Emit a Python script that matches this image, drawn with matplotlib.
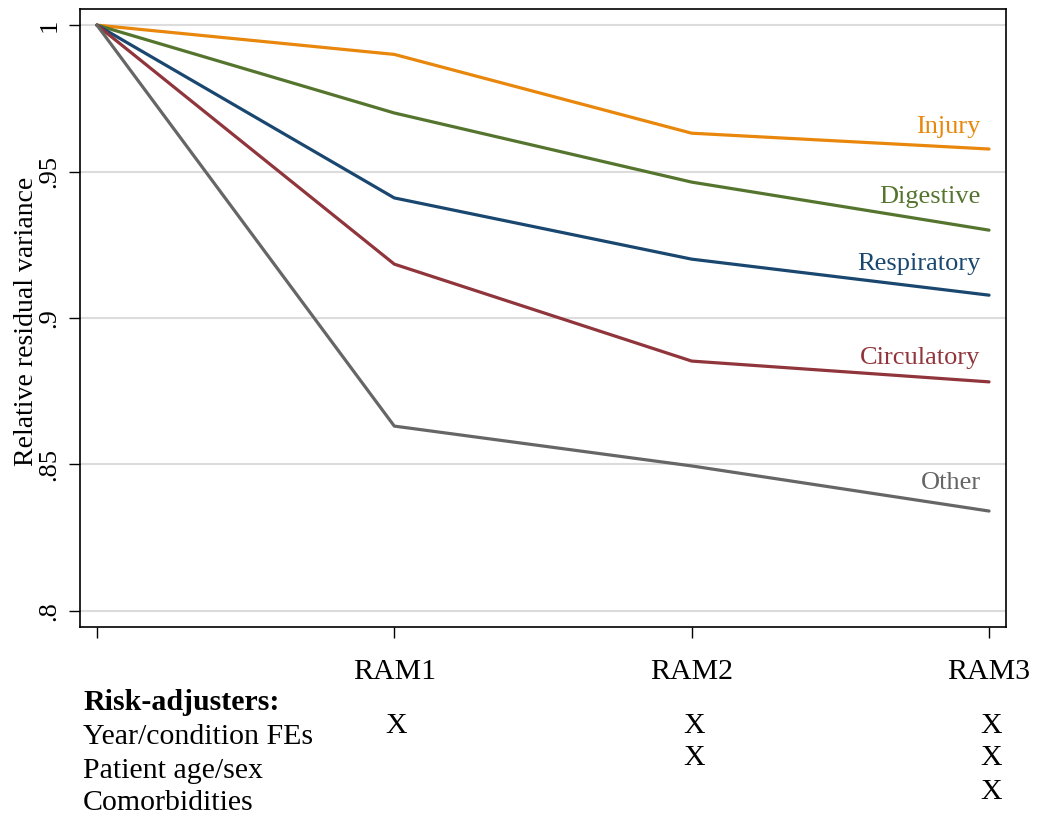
import matplotlib.pyplot as plt
import numpy as np

plt.rcParams['font.family'] = ['Liberation Serif', 'DejaVu Serif']

models = ["", "RAM1", "RAM2", "RAM3"]
injury = [1.0, 0.990, 0.9631, 0.9577]
digestive = [1.0, 0.970, 0.9464, 0.930]
respiratory = [1.0, 0.941, 0.9201, 0.9078]
circulatory = [1.0, 0.9184, 0.8853, 0.8782]
other = [1.0, 0.8631, 0.8495, 0.8341]

names = ["Injury", "Digestive", "Respiratory", "Circulatory", "Other"]
label_y = [0.9652, 0.9413, 0.9184, 0.8863, 0.8437]
colors = ["#E8870C", "#55752F", "#1A476F", "#90353B", "#666666"]

adjusters = ["Year/condition FEs", "Patient age/sex", "Comorbidities"]
# which adjusters are in RAM1, RAM2, RAM3
included = [[1, 0, 0], [1, 1, 0], [1, 1, 1]]

fig = plt.figure(figsize=(10.44, 8.19), dpi=100)
ax = fig.add_axes([0.0766, 0.2344, 0.8870, 0.7546])

x = np.arange(len(models))
series = [injury, digestive, respiratory, circulatory, other]
for vals, name, ly, c in zip(series, names, label_y, colors):
    ax.plot(x, vals, color=c, lw=2.3, solid_capstyle='round')
    ax.text(2.972, ly, name, color=c, fontsize=19, ha='right', va='center')

ax.set_xlim(-0.057, 3.057)
ax.set_ylim(0.7945, 1.0055)
ax.set_yticks([0.8, 0.85, 0.9, 0.95, 1.0])
ax.set_yticklabels([".8", ".85", ".9", ".95", "1"], rotation=90, va='center', fontsize=19)
ax.set_xticks(x)
ax.set_xticklabels(models, fontsize=21.5)
ax.tick_params(axis='y', length=8, width=1, pad=6)
ax.tick_params(axis='x', length=8, width=1, pad=15)
ax.grid(axis='y', color='#DCDCDC', lw=1.5)
ax.set_axisbelow(True)
ax.set_ylabel("Relative residual variance", fontsize=20)
ax.yaxis.set_label_coords(-0.044, 0.494)
for s in ax.spines.values():
    s.set_linewidth(1.2)

# risk adjuster table below the plot
fig.text(83 / 1044, 1 - 703 / 819, "Risk-adjusters:", fontsize=21.5, fontweight='bold', va='center')
row_y = [737, 771, 803]
mark_y = [726, 758, 792]
for r, name in enumerate(adjusters):
    fig.text(83 / 1044, 1 - row_y[r] / 819, name, fontsize=21.5, va='center')
    for m in range(3):
        if included[m][r]:
            xd = ax.transData.transform((m + 1, 0))[0] / fig.bbox.width
            fig.text(xd + 0.002, 1 - mark_y[r] / 819, "X", fontsize=21.5, ha='center', va='center')

fig.savefig("out.png", dpi=100)
